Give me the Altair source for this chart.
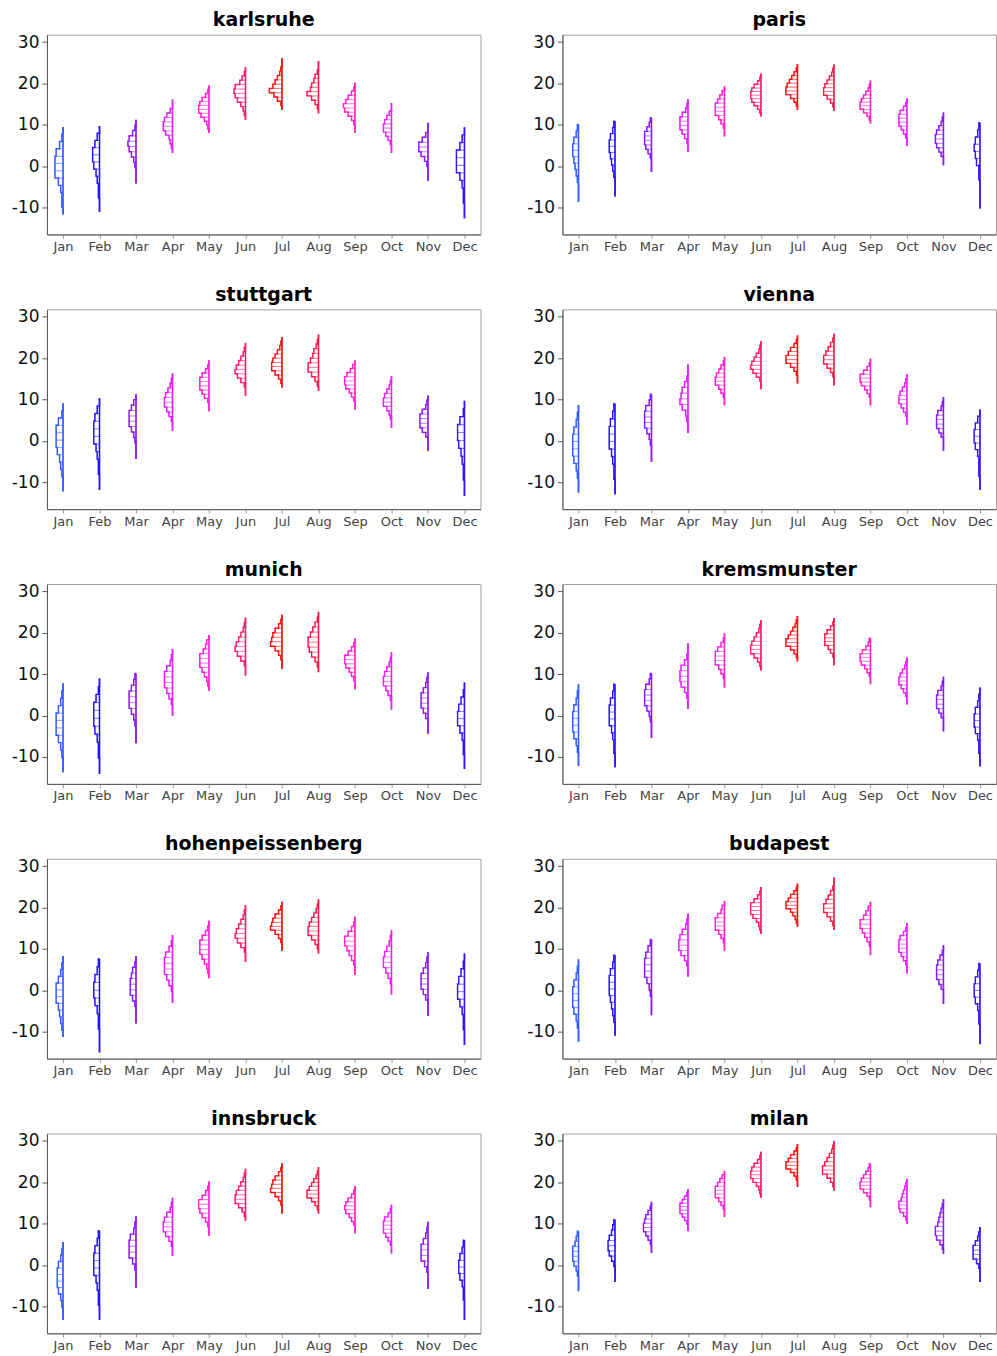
import altair as alt
import pandas as pd

months = ["Jan", "Feb", "Mar", "Apr", "May", "Jun", "Jul", "Aug", "Sep", "Oct", "Nov", "Dec"]
month_colors = ["#2f5cff", "#2414ff", "#8a18ff", "#e21cff", "#ff1fd6", "#ff1a6e",
                "#ff1010", "#ff1a4c", "#ff22cc", "#ee1fff", "#8a18ff", "#3514ff"]
cities = ["karlsruhe", "paris", "stuttgart", "vienna", "munich", "kremsmunster",
          "hohenpeissenberg", "budapest", "innsbruck", "milan"]

# per month: lowest value, highest value, histogram bar widths (hex digit per bin, 12 bins from lo to hi)
karlsruhe_lo = [-11.7, -11.1, -4.2, 3.2, 8.0, 11.2, 13.6, 12.8, 8.0, 3.2, -3.5, -12.6]
karlsruhe_hi = [9.5, 9.7, 11.2, 16.1, 19.5, 24.0, 26.1, 25.4, 20.2, 15.3, 10.5, 9.4]
karlsruhe_hist = ["011247776310", "001123566420", "000124676310", "012368875200", "012479986310", "012479a95310",
                  "0147b8642100", "0136a7643100", "001369a86310", "001357764200", "000136885200", "001124777420"]

paris_lo = [-8.6, -7.3, -1.4, 3.5, 7.2, 12.0, 13.6, 13.4, 10.3, 4.9, 0.2, -10.2]
paris_hi = [10.1, 10.9, 11.7, 16.2, 19.3, 22.4, 24.7, 24.6, 20.7, 16.4, 13.0, 10.5]
paris_hist = ["000123455421", "000123455421", "000135666421", "001357775210", "001358886420", "013689986310",
              "0136aa975310", "013699864210", "013699864210", "001357776310", "002467764210", "000011345421"]

stuttgart_lo = [-12.2, -11.8, -4.4, 2.4, 7.2, 10.9, 12.9, 12.1, 7.6, 3.1, -2.4, -13.3]
stuttgart_hi = [9.1, 10.3, 11.3, 16.3, 19.5, 23.7, 25.1, 25.7, 19.5, 15.7, 11.0, 9.7]
stuttgart_hist = ["001235666410", "001123555420", "000124666420", "001357764210", "001468886310", "001479864210",
                  "013699864210", "013699754210", "001358997420", "001247764210", "000257775210", "001123566410"]

vienna_lo = [-12.5, -12.9, -5.1, 1.9, 8.6, 12.5, 13.9, 13.4, 8.6, 3.9, -2.4, -11.8]
vienna_hi = [8.7, 9.0, 11.3, 18.5, 20.3, 24.1, 25.5, 25.9, 19.9, 16.1, 10.6, 7.6]
vienna_hist = ["001245554210", "001123555421", "000124666521", "001257653100", "001358875310", "001479864210",
               "00136aa86310", "001369975310", "001358996310", "001357764210", "000246665210", "001112455420"]

munich_lo = [-13.7, -14.1, -6.7, 0.0, 6.0, 9.7, 11.3, 10.5, 6.4, 1.4, -4.4, -12.9]
munich_hi = [7.8, 9.0, 10.2, 16.1, 19.5, 23.7, 24.4, 25.1, 18.7, 15.3, 10.5, 8.0]
munich_hist = ["001246664210", "001124555310", "000124666421", "001357775210", "012468885320", "001479864210",
               "00136a986310", "013689975310", "001358996310", "001357764210", "000246664210", "001124665310"]

kremsmunster_lo = [-12.2, -12.5, -5.4, 1.6, 6.8, 10.9, 13.1, 12.2, 7.6, 2.7, -3.8, -12.3]
kremsmunster_hi = [7.6, 7.6, 10.2, 17.5, 19.9, 23.1, 24.1, 23.6, 18.7, 14.1, 9.4, 6.8]
kremsmunster_hist = ["001245554210", "001123555421", "000124666521", "001367763100", "001358886310", "013699864210",
                     "0136aa864210", "001358886310", "001358997421", "001357764210", "000246665210", "001124554210"]

hohenpeissenberg_lo = [-11.3, -15.0, -8.0, -3.0, 2.9, 6.9, 9.6, 8.9, 3.7, -1.0, -6.2, -13.2]
hohenpeissenberg_hi = [8.3, 7.6, 8.3, 13.4, 16.8, 20.6, 21.4, 22.0, 17.8, 14.6, 9.3, 8.9]
hohenpeissenberg_hist = ["012346664210", "000112455421", "000135554310", "001357776310", "012468886310", "001479864210",
                         "00136a986310", "013699864210", "001357996310", "001357764210", "000246664210", "001124665310"]

budapest_lo = [-12.4, -11.0, -6.0, 3.3, 9.5, 13.6, 15.4, 14.6, 8.5, 4.1, -3.3, -13.0]
budapest_hi = [7.5, 8.5, 12.3, 18.6, 21.6, 25.0, 25.8, 27.3, 21.4, 16.3, 10.9, 6.5]
budapest_hist = ["001245554210", "001234555421", "000124666531", "001368875210", "001358886320", "012479996310",
                 "01246aa86310", "013699753100", "001357996420", "001357776310", "000246665310", "000112455421"]

innsbruck_lo = [-13.3, -13.3, -5.5, 2.2, 7.1, 10.7, 12.5, 12.5, 7.7, 2.8, -5.8, -13.3]
innsbruck_hi = [5.6, 8.3, 11.8, 16.3, 20.2, 23.3, 24.6, 23.7, 19.1, 14.6, 10.5, 6.0]
innsbruck_hist = ["001245554210", "001123555421", "000136665210", "001368875210", "001368996310", "013699864210",
                  "00136a986310", "0136aa864210", "001358986310", "001357776310", "000136664210", "000112455421"]

milan_lo = [-6.3, -4.1, 2.9, 8.2, 11.6, 16.3, 18.9, 18.0, 14.0, 10.0, 2.7, -4.1]
milan_hi = [8.2, 11.0, 15.3, 18.4, 22.8, 27.4, 29.3, 30.0, 24.5, 20.9, 16.0, 9.2]
milan_hist = ["000124555321", "000135665321", "001357765310", "001357775310", "001358886420", "012479986310",
              "00136aa86310", "0136aa864210", "001369986421", "013677543210", "013677543210", "000136664210"]

CITY_DATA = {
    "karlsruhe": (karlsruhe_lo, karlsruhe_hi, karlsruhe_hist),
    "paris": (paris_lo, paris_hi, paris_hist),
    "stuttgart": (stuttgart_lo, stuttgart_hi, stuttgart_hist),
    "vienna": (vienna_lo, vienna_hi, vienna_hist),
    "munich": (munich_lo, munich_hi, munich_hist),
    "kremsmunster": (kremsmunster_lo, kremsmunster_hi, kremsmunster_hist),
    "hohenpeissenberg": (hohenpeissenberg_lo, hohenpeissenberg_hi, hohenpeissenberg_hist),
    "budapest": (budapest_lo, budapest_hi, budapest_hist),
    "innsbruck": (innsbruck_lo, innsbruck_hi, innsbruck_hist),
    "milan": (milan_lo, milan_hi, milan_hist),
}

PANEL_W, PANEL_H = 434, 200
X_MIN, X_MAX = 0.56, 12.44
Y_MIN, Y_MAX = -16.5, 31.8
UNIT = 1.15 * (X_MAX - X_MIN) / PANEL_W  # histogram count -> month units

rect_rows, line_rows, rule_rows = [], [], []
for city, (lo, hi, hist) in CITY_DATA.items():
    for mi in range(12):
        m = mi + 1
        counts = [int(ch, 16) for ch in hist[mi]]
        step = (hi[mi] - lo[mi]) / len(counts)
        rule_rows.append(dict(city=city, month=m, mname=months[mi], lo=lo[mi], hi=hi[mi]))
        o = 0
        line_rows.append(dict(city=city, month=m, mname=months[mi], x=m, y=lo[mi], o=o))
        for i, c in enumerate(counts):
            y0 = lo[mi] + i * step
            y1 = y0 + step
            xl = m - c * UNIT
            o += 1
            line_rows.append(dict(city=city, month=m, mname=months[mi], x=xl, y=y0, o=o))
            o += 1
            line_rows.append(dict(city=city, month=m, mname=months[mi], x=xl, y=y1, o=o))
            if c > 0:
                rect_rows.append(dict(city=city, month=m, mname=months[mi], x=xl, x2=m, y=y0, y2=y1))
        o += 1
        line_rows.append(dict(city=city, month=m, mname=months[mi], x=m, y=hi[mi], o=o))

rect_df = pd.DataFrame(rect_rows)
line_df = pd.DataFrame(line_rows)
rule_df = pd.DataFrame(rule_rows)

xs = alt.Scale(domain=[X_MIN, X_MAX], nice=False, zero=False)
ys = alt.Scale(domain=[Y_MIN, Y_MAX], nice=False, zero=False)
cs = alt.Scale(domain=months, range=month_colors)
label_expr = "[" + ",".join("'%s'" % m for m in months) + "][datum.value - 1]"
xaxis = alt.Axis(values=list(range(1, 13)), labelExpr=label_expr, title=None, grid=False,
                 labelFontSize=13, labelColor="#444", tickColor="#999", tickSize=4,
                 labelPadding=2, domainColor="#555")
yaxis = alt.Axis(values=[-10, 0, 10, 20, 30], labelExpr="'' + datum.value", title=None, grid=False,
                 labelFontSize=17, labelColor="#111", tickColor="#555", tickSize=5, labelPadding=3,
                 domainColor="#555")


def panel(city):
    r = rect_df[rect_df.city == city]
    l = line_df[line_df.city == city]
    u = rule_df[rule_df.city == city]
    rects = alt.Chart(r).mark_rect(fill="white", strokeWidth=0.8, strokeOpacity=0.55).encode(
        x=alt.X("x:Q", scale=xs, axis=xaxis), x2="x2:Q",
        y=alt.Y("y:Q", scale=ys, axis=yaxis), y2="y2:Q",
        stroke=alt.Stroke("mname:N", scale=cs, legend=None))
    outline = alt.Chart(l).mark_line(strokeWidth=1.4).encode(
        x=alt.X("x:Q", scale=xs, axis=xaxis),
        y=alt.Y("y:Q", scale=ys, axis=yaxis),
        order="o:Q", detail="month:N",
        color=alt.Color("mname:N", scale=cs, legend=None))
    rules = alt.Chart(u).mark_rule(strokeWidth=1.6).encode(
        x=alt.X("month:Q", scale=xs, axis=xaxis),
        y=alt.Y("lo:Q", scale=ys, axis=yaxis), y2="hi:Q",
        color=alt.Color("mname:N", scale=cs, legend=None))
    return alt.layer(rects, outline, rules).properties(title=city, width=PANEL_W, height=PANEL_H)


chart = alt.concat(*[panel(c) for c in cities], columns=2, spacing={"row": 30, "column": 44}).properties(
    padding={"left": 10, "top": 9, "right": 0, "bottom": 0}, background="white"
).configure_view(stroke="#a0a0a0", strokeWidth=1).configure_title(
    font="DejaVu Sans", fontSize=19, fontWeight="bold", color="black", offset=3, anchor="middle"
).configure_axis(labelFont="DejaVu Sans")

chart.save("out.html", embed_options={"renderer": "svg", "actions": False})
